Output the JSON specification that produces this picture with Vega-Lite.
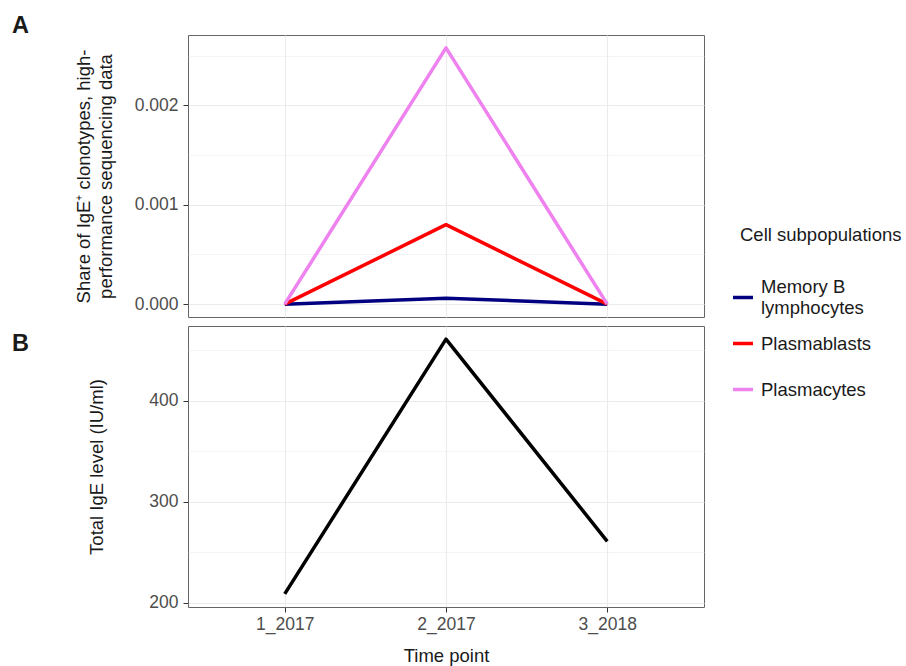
{
  "$schema": "https://vega.github.io/schema/vega-lite/v6.json",
  "padding": {"left": 11, "top": 13, "right": 2, "bottom": 0},
  "spacing": 9,
  "bounds": "flush",
  "config": {
    "font": "Liberation Sans",
    "view": {"stroke": "#666666", "strokeWidth": 1},
    "axis": {
      "domain": false,
      "gridColor": "#EBEBEB",
      "tickColor": "#333333",
      "tickSize": 5,
      "labelFontSize": 17.5,
      "labelColor": "#4D4D4D",
      "labelPadding": 5,
      "titleFontSize": 18.5,
      "titleFontWeight": "normal",
      "titleColor": "#1A1A1A"
    },
    "title": {"fontSize": 23.5, "fontWeight": "bold", "color": "#1A1A1A"}
  },
  "vconcat": [
    {
      "width": 516,
      "height": 282,
      "title": {"text": "A", "anchor": "start", "frame": "group", "orient": "top", "offset": 0, "baseline": "alphabetic", "dx": -176, "dy": 21},
      "data": {
        "values": [
          {"time": "1_2017", "population": "Memory B lymphocytes", "share": 0.0},
          {"time": "2_2017", "population": "Memory B lymphocytes", "share": 0.00006},
          {"time": "3_2018", "population": "Memory B lymphocytes", "share": 0.0},
          {"time": "1_2017", "population": "Plasmablasts", "share": 0.0},
          {"time": "2_2017", "population": "Plasmablasts", "share": 0.0008},
          {"time": "3_2018", "population": "Plasmablasts", "share": 0.0},
          {"time": "1_2017", "population": "Plasmacytes", "share": 0.0},
          {"time": "2_2017", "population": "Plasmacytes", "share": 0.00258},
          {"time": "3_2018", "population": "Plasmacytes", "share": 0.0}
        ]
      },
      "mark": {"type": "line", "strokeWidth": 3.5, "strokeJoin": "round", "strokeCap": "butt"},
      "encoding": {
        "x": {
          "field": "time",
          "type": "ordinal",
          "scale": {"type": "point", "padding": 0.6},
          "axis": {"labels": false, "ticks": false, "title": null, "grid": true, "gridWidth": 1.1}
        },
        "y": {
          "field": "share",
          "type": "quantitative",
          "scale": {"domain": [-0.000129, 0.002709], "nice": false, "zero": false},
          "axis": {
            "values": [0, 0.0005, 0.001, 0.0015, 0.002, 0.0025],
            "labelExpr": "round(datum.value * 2000) % 2 == 0 ? format(datum.value, '.3f') : ''",
            "gridWidth": {"condition": {"test": "round(datum.value * 2000) % 2 == 0", "value": 1.1}, "value": 0.55},
            "tickOpacity": {"condition": {"test": "round(datum.value * 2000) % 2 == 0", "value": 1}, "value": 0},
            "title": ["Share of IgE⁺ clonotypes, high-", "performance sequencing data"],
            "titleLineHeight": 22,
            "titleX": -95,
            "titleBaseline": "bottom"
          }
        },
        "color": {
          "field": "population",
          "type": "nominal",
          "scale": {"domain": ["Memory B lymphocytes", "Plasmablasts", "Plasmacytes"], "range": ["#000080", "#FF0000", "#EE82EE"]},
          "legend": {
            "orient": "none",
            "legendX": 552,
            "legendY": 191,
            "title": "Cell subpopulations",
            "titleFontSize": 18.5,
            "titleFontWeight": "normal",
            "titleColor": "#1A1A1A",
            "titlePadding": 41,
            "labelFontSize": 18.5,
            "labelColor": "#1A1A1A",
            "labelLineHeight": 21,
            "labelExpr": "datum.label == 'Memory B lymphocytes' ? ['Memory B', 'lymphocytes'] : datum.label",
            "symbolType": "M-1,-1.6M-1,0H1M1,1.6",
            "symbolSize": 400,
            "symbolStrokeWidth": 3.5,
            "symbolOffset": -9,
            "labelOffset": 6,
            "rowPadding": 0,
            "encode": {
              "labels": {
                "update": {"dy": {"signal": "datum.value == 'Memory B lymphocytes' ? -10.5 : 0"}}
              }
            }
          }
        }
      }
    },
    {
      "width": 516,
      "height": 281,
      "title": {"text": "B", "anchor": "start", "frame": "group", "orient": "top", "offset": 0, "baseline": "alphabetic", "dx": -176, "dy": 48},
      "data": {
        "values": [
          {"time": "1_2017", "ige": 209},
          {"time": "2_2017", "ige": 461},
          {"time": "3_2018", "ige": 261}
        ]
      },
      "mark": {"type": "line", "strokeWidth": 3.5, "color": "#000000", "strokeJoin": "round", "strokeCap": "butt"},
      "encoding": {
        "x": {
          "field": "time",
          "type": "ordinal",
          "scale": {"type": "point", "padding": 0.6},
          "axis": {"labelAngle": 0, "labelPadding": 3, "title": "Time point", "titlePadding": 14, "grid": true, "gridWidth": 1.1}
        },
        "y": {
          "field": "ige",
          "type": "quantitative",
          "scale": {"domain": [196, 474], "nice": false, "zero": false},
          "axis": {
            "values": [200, 250, 300, 350, 400, 450],
            "labelExpr": "datum.value % 100 == 0 ? format(datum.value, 'd') : ''",
            "gridWidth": {"condition": {"test": "datum.value % 100 == 0", "value": 1.1}, "value": 0.55},
            "tickOpacity": {"condition": {"test": "datum.value % 100 == 0", "value": 1}, "value": 0},
            "title": "Total IgE level (IU/ml)",
            "titleX": -82,
            "titleBaseline": "bottom"
          }
        }
      }
    }
  ]
}
